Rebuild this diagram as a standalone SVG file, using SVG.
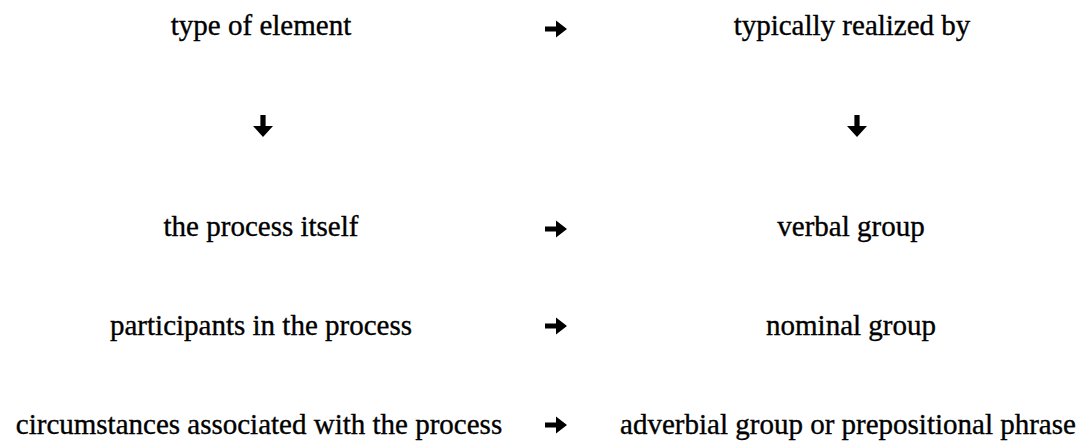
<svg xmlns="http://www.w3.org/2000/svg" width="1091" height="442" viewBox="0 0 1091 442">
  <defs>
    <style>
      .label { font-family: "Liberation Serif", "Times New Roman", serif; font-size: 29px; fill: #000; stroke: #000; stroke-width: 0.35px; text-anchor: middle; }
      .arrow { fill: #000; }
    </style>
    <!-- bold right-pointing arrow glyph, origin at its centre -->
    <path id="arrowRight" d="M-11,-2.6 L0,-2.6 L0,-8.5 L11,0 L0,8.5 L0,2.6 L-11,2.6 Z"/>
    <!-- bold downward arrow glyph, origin at its centre -->
    <path id="arrowDown" d="M-2.6,-11 L2.6,-11 L2.6,0 L10,0 L0,11 L-10,0 L-2.6,0 Z"/>
  </defs>
  <rect width="1091" height="442" fill="#ffffff"/>

  <g id="head-element"><text class="label" x="261" y="35">type of element</text></g>
  <g id="head-realized"><text class="label" x="852" y="35">typically realized by</text></g>

  <g id="row-process"><text class="label" x="261" y="236">the process itself</text></g>
  <g id="row-verbal"><text class="label" x="851" y="236">verbal group</text></g>

  <g id="row-participants"><text class="label" x="261" y="335">participants in the process</text></g>
  <g id="row-nominal"><text class="label" x="851" y="335">nominal group</text></g>

  <g id="row-circumstances"><text class="label" x="259" y="434">circumstances associated with the process</text></g>
  <g id="row-adverbial"><text class="label" x="848" y="434">adverbial group or prepositional phrase</text></g>

  <g id="connectors" class="arrow">
    <use href="#arrowRight" x="556" y="29"/>
    <use href="#arrowDown" x="263" y="126"/>
    <use href="#arrowDown" x="857" y="126"/>
    <use href="#arrowRight" x="556" y="229"/>
    <use href="#arrowRight" x="556" y="326"/>
    <use href="#arrowRight" x="556" y="425"/>
  </g>
</svg>
